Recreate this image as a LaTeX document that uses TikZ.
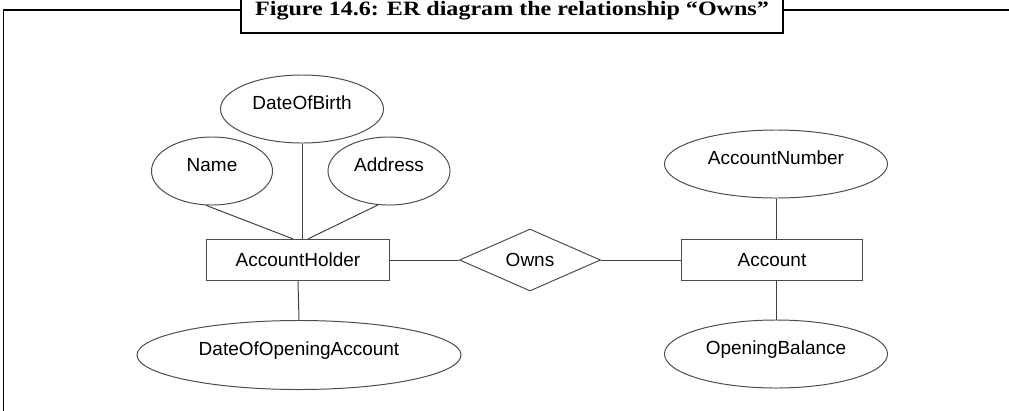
\documentclass[tikz,border=0pt]{standalone}
\usepackage{fontspec}
\setmainfont{Liberation Sans}
\newfontfamily\capfont[FakeStretch=1.18]{Liberation Serif}
\usetikzlibrary{shapes.geometric, positioning}

\begin{document}
\begin{tikzpicture}[
    x=0.025cm, y=-0.025cm,
    attr/.style={ellipse, draw=black!70, line width=0.7pt, inner sep=0pt,
                 minimum height=1.7cm, text height=0.34cm, text depth=0.3cm,
                 font=\fontsize{13.5}{16}\selectfont},
    entity/.style={rectangle, draw=black!70, line width=0.7pt, inner sep=0pt,
                   minimum height=1.03cm, font=\fontsize{13.5}{16}\selectfont},
    rel/.style={diamond, draw=black!70, line width=0.7pt, inner sep=0pt, aspect=2.27,
                minimum width=3.525cm, minimum height=1.55cm,
                font=\fontsize{13.5}{16}\selectfont},
    conn/.style={draw=black!75, line width=0.7pt},
    frame/.style={line width=1.4pt}
]
\useasboundingbox (0,0) rectangle (1009,410);

% --- Caption + frame ---
\node[draw, frame, minimum width=13.55cm, minimum height=1.1cm, anchor=south,
      font=\capfont\bfseries\fontsize{14.5}{17}\selectfont] (caption) at (512,34)
      {Figure 14.6: ER diagram the relationship “Owns”};
\draw[frame] (3.5,420) -- (3.5,10) -- (caption.west |- 0,10);
\draw[frame] (caption.east |- 0,10) -- (1020,10);

% --- Left entity and its attributes ---
\node[attr, minimum width=4.075cm] (dob)    at (302,109) {DateOfBirth};
\node[attr, minimum width=3.025cm] (name)   at (212,171) {Name};
\node[attr, minimum width=3.05cm]  (addr)   at (389,171) {Address};
\node[entity, minimum width=4.55cm] (holder) at (298,260) {AccountHolder};
\node[attr, minimum width=8.1cm, minimum height=1.725cm] (dooa) at (299,355) {DateOfOpeningAccount};

% --- Relationship ---
\node[rel] (owns) at (530,260) {Owns};

% --- Right entity and its attributes ---
\node[entity, minimum width=4.525cm] (account) at (772,260) {Account};
\node[attr, minimum width=5.575cm] (accno)  at (776,164) {AccountNumber};
\node[attr, minimum width=5.575cm] (openbal) at (776,354) {OpeningBalance};

% --- Lines ---
\draw[conn] (name.260) -- ([xshift=-0.125cm]holder.north);
\draw[conn] (dob.south) -- (dob.south |- holder.north);
\draw[conn] (addr.252) -- ([xshift=0.25cm]holder.north);
\draw[conn] (holder.south) -- (dooa.north);

\draw[conn] (holder) -- (owns);
\draw[conn] (owns) -- (account);

\draw[conn] (accno.south) -- (accno.south |- account.north);
\draw[conn] (accno.south |- account.south) -- (openbal.north);

\end{tikzpicture}
\end{document}
